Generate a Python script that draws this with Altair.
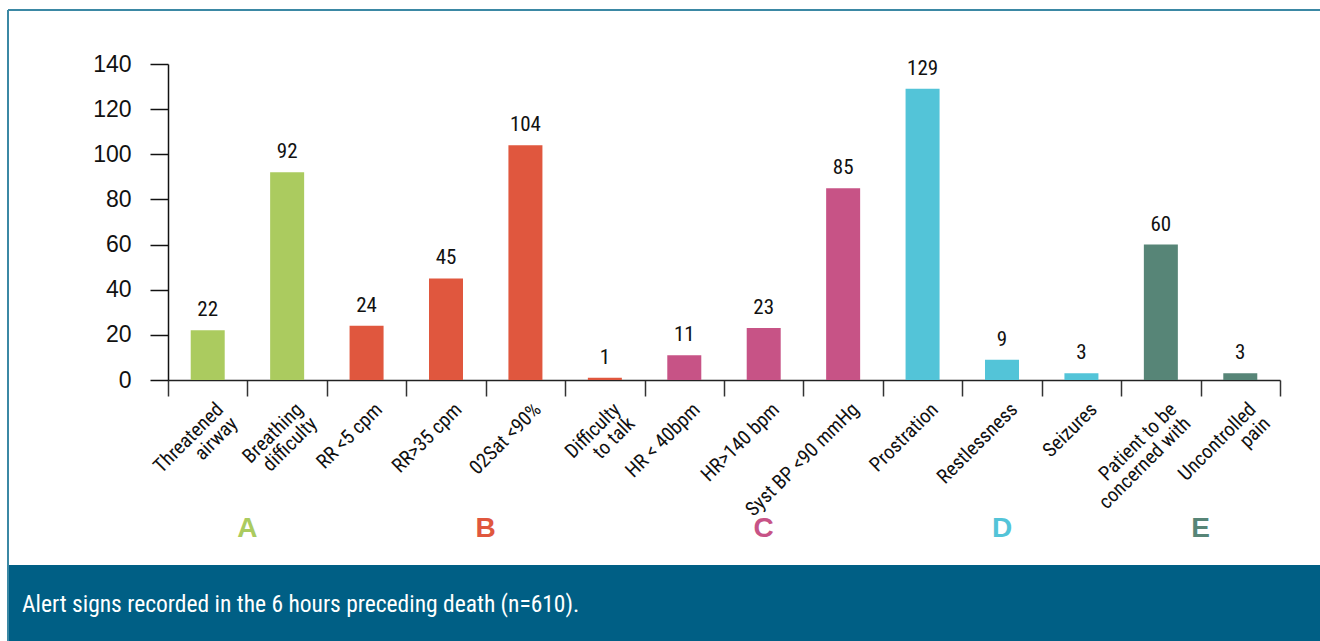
import altair as alt
import pandas as pd

categories = ["Threatened\nairway", "Breathing\ndifficulty", "RR <5 cpm", "RR>35 cpm",
              "02Sat <90%", "Difficulty\nto talk", "HR < 40bpm", "HR>140 bpm",
              "Syst BP <90 mmHg", "Prostration", "Restlessness", "Seizures",
              "Patient to be\nconcerned with", "Uncontrolled\npain"]
values = [22, 92, 24, 45, 104, 1, 11, 23, 85, 129, 9, 3, 60, 3]
groups = ["A", "A", "B", "B", "B", "B", "C", "C", "C", "D", "D", "D", "E", "E"]
group_letters = ["A", "B", "C", "D", "E"]
group_colors = ["#abcb5f", "#e0573e", "#c75386", "#53c4d8", "#578577"]
# category each group letter sits under, and whether it sits at that band's right edge
letter_anchor = ["Threatened\nairway", "RR>35 cpm", "HR>140 bpm", "Restlessness",
                 "Patient to be\nconcerned with"]
letter_at_edge = [True, True, False, False, True]
y_ticks = [0, 20, 40, 60, 80, 100, 120, 140]
caption = "Alert signs recorded in the 6 hours preceding death (n=610)."

NARROW = "Roboto Condensed, Liberation Sans, sans-serif"
WIDE = "Liberation Sans, Arial, sans-serif"

df = pd.DataFrame({"cat": categories, "value": values, "group": groups})
letters = pd.DataFrame({"cat": letter_anchor, "letter": group_letters,
                        "edge": letter_at_edge})

color = alt.Color("group:N", scale=alt.Scale(domain=group_letters, range=group_colors),
                  legend=None)

xenc = alt.X("cat:N", sort=categories,
             scale=alt.Scale(paddingInner=0, paddingOuter=0),
             axis=alt.Axis(title=None, labelAngle=-45, labelAlign="right",
                           labelBaseline="top", tickBand="extent", tickSize=16,
                           tickColor="#333333", tickWidth=1.5, domainColor="#222222",
                           domainWidth=1.5, labelFont=NARROW, labelFontSize=20,
                           labelColor="#111111", labelLineHeight=20,
                           labelExpr="split(datum.label, '\\n')",
                           labelOverlap=False, labelPadding=3, labelOffset=5,
                           labelLimit=300, grid=False))

yenc = alt.Y("value:Q", scale=alt.Scale(domain=[0, 140], nice=False),
             axis=alt.Axis(title=None, values=y_ticks, tickSize=18, tickColor="#111111",
                           tickWidth=1.5, domainColor="#111111", domainWidth=1.5,
                           labelFont=WIDE, labelFontSize=23, labelColor="#111111",
                           labelPadding=19, grid=False))

bars = alt.Chart(df).mark_bar(size=34).encode(x=xenc, y=yenc, color=color)

labels = alt.Chart(df).mark_text(baseline="bottom", dy=-10, font=NARROW, fontSize=21,
                                 color="#111111").encode(
    x=alt.X("cat:N", sort=categories), y="value:Q", text="value:Q")


def letter_layer(edge, pos):
    return alt.Chart(letters).transform_filter(
        "datum.edge" if edge else "!datum.edge").mark_text(
        font=WIDE, fontSize=28, fontWeight="bold", baseline="alphabetic").encode(
        x=alt.X("cat:N", sort=categories, bandPosition=pos),
        y=alt.value(473),
        text="letter:N",
        color=alt.Color("letter:N",
                        scale=alt.Scale(domain=group_letters, range=group_colors),
                        legend=None))


one = pd.DataFrame({"t": [caption]})

band = alt.Chart(one).mark_rect(color="#005f85").encode(
    x=alt.value(-159), x2=alt.value(1160), y=alt.value(501), y2=alt.value(580))

cap_text = alt.Chart(one).mark_text(align="left", baseline="middle", font=NARROW,
                                    fontSize=23.5, color="white").encode(
    x=alt.value(-146), y=alt.value(541), text="t:N")

border_left = alt.Chart(one).mark_rule(color="#3b88a4", strokeWidth=2).encode(
    x=alt.value(-160), y=alt.value(-54), y2=alt.value(580))
border_top = alt.Chart(one).mark_rule(color="#3b88a4", strokeWidth=2).encode(
    x=alt.value(-160), x2=alt.value(1160), y=alt.value(-54))

chart = alt.layer(band, border_left, border_top, bars, labels, letter_layer(True, 1),
                  letter_layer(False, 0.5), cap_text).resolve_scale(
    color="independent").properties(
    width=1112, height=316,
    autosize=alt.AutoSizeParams(type="none"),
    padding={"left": 168, "top": 64, "right": 40, "bottom": 261},
    background="white",
).configure_view(stroke=None)

chart.save("out.html", embed_options={"renderer": "svg", "actions": False})
